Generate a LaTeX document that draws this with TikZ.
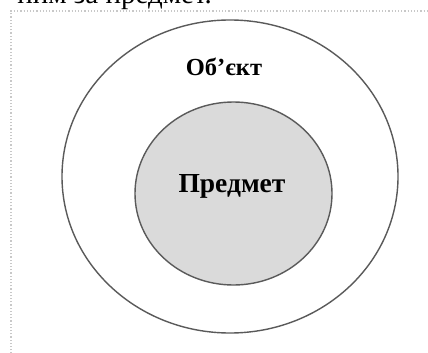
\documentclass[tikz,border=0pt]{standalone}
\usepackage{fontspec}
\usetikzlibrary{shapes.geometric}
\setmainfont{Liberation Serif}
\definecolor{ringline}{HTML}{5A5A5A}
\definecolor{innerfill}{HTML}{DADADA}
\definecolor{frameline}{HTML}{C8C8C8}
\begin{document}
\begin{tikzpicture}[x=1pt,y=-1pt,
  ring/.style={draw=ringline,line width=1.4pt},
  lbl/.style={font=\bfseries,text=black,inner sep=0pt}]
\useasboundingbox (0,0) rectangle (428,353);
\clip (0,0) rectangle (428,353);
\fill[white] (0,0) rectangle (428,353);
% partially visible text line above
\node[anchor=base east,inner sep=0pt,font=\fontsize{29}{32}\selectfont] (toptext) at (212,4) {ним за предмет.};
% dotted frame
\draw[frameline,dotted,line width=1.2pt] (11,360) -- (11,11) -- (440,11);
% outer ellipse
\node[ring,ellipse,minimum width=336pt,minimum height=313pt,inner sep=0pt] (outer) at (230,176.5) {};
% inner ellipse
\node[ring,fill=innerfill,ellipse,minimum width=197pt,minimum height=183pt,inner sep=0pt] (inner) at (233.5,193.5) {};
\node[lbl,font=\bfseries\fontsize{24.5}{28}\selectfont] (objl) at (224,67) {Об’єкт};
\node[lbl,font=\bfseries\fontsize{27.5}{31}\selectfont] (predl) at (232,186) {Предмет};
\end{tikzpicture}
\end{document}
